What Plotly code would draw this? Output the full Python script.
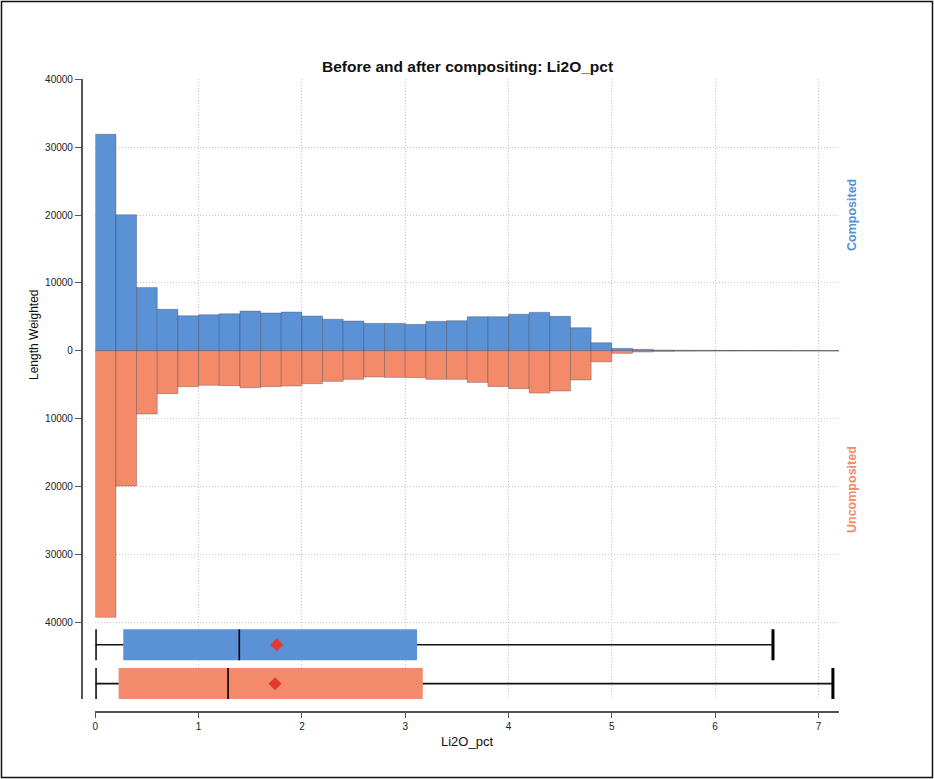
import plotly.graph_objects as go

# ---------------- data ----------------
bin_width = 0.2
bin_lo = [round(i * bin_width, 1) for i in range(36)]  # 0.0 .. 7.0 (bin left edges)

composited = [31900, 20050, 9330, 6100, 5160, 5300, 5450, 5850, 5560, 5700,
              5110, 4640, 4380, 4030, 4030, 3880, 4330, 4420, 5010, 5010,
              5380, 5650, 5070, 3390, 1180, 350, 200, 100, 60, 50,
              40, 20, 40, 0, 0, 0]
uncomposited = [39300, 19950, 9330, 6330, 5300, 5100, 5150, 5450, 5300, 5200,
                4860, 4520, 4220, 3880, 3930, 3980, 4220, 4220, 4670, 5300,
                5600, 6250, 5940, 4320, 1640, 390, 190, 100, 60, 50,
                40, 20, 30, 20, 20, 30]

series_names = ["Composited", "Uncomposited"]
box_min = [0.0, 0.0]
box_q1 = [0.271, 0.226]
box_median = [1.394, 1.285]
box_q3 = [3.114, 3.17]
box_max = [6.56, 7.14]
box_mean = [1.756, 1.74]

y_tick_vals = [-40000, -30000, -20000, -10000, 0, 10000, 20000, 30000, 40000]
y_tick_text = ["40000", "30000", "20000", "10000", "0", "10000", "20000", "30000", "40000"]
x_tick_vals = [0, 1, 2, 3, 4, 5, 6, 7]

# ---------------- style ----------------
BLUE = "#5B91D5"
ORANGE = "#F38B6B"
colors = [BLUE, ORANGE]
MEAN_RED = "#E23A2E"
FONT = "Arial, Liberation Sans, sans-serif"
W, H = 934, 779
box_row = [1, 0]  # row index on the box axis
half_h = 0.4
EDGE = "rgba(50,50,60,0.45)"
GRID_DASH = "1px,2px"

def px_x(p):
    return p / W

def px_y(p):
    return 1 - p / H

fig = go.Figure()

fig.add_trace(go.Bar(
    x=bin_lo, y=composited, width=bin_width, offset=0,
    marker=dict(color=BLUE, line=dict(color=EDGE, width=0.7)),
    name=series_names[0], showlegend=False))
fig.add_trace(go.Bar(
    x=bin_lo, y=[-v for v in uncomposited], width=bin_width, offset=0,
    marker=dict(color=ORANGE, line=dict(color=EDGE, width=0.7)),
    name=series_names[1], showlegend=False))

# box plots on an overlaid axis
for i in range(2):
    r = box_row[i]
    fig.add_trace(go.Bar(
        y=[r], x=[box_q3[i] - box_q1[i]], base=[box_q1[i]], orientation="h",
        width=2 * half_h, marker=dict(color=colors[i], line=dict(width=0)),
        yaxis="y2", showlegend=False))
    # whiskers
    fig.add_trace(go.Scatter(
        x=[box_min[i], box_q1[i], None, box_q3[i], box_max[i]],
        y=[r, r, None, r, r], mode="lines",
        line=dict(color="#111111", width=1.6), yaxis="y2", showlegend=False))
    # caps
    fig.add_trace(go.Scatter(
        x=[box_min[i], box_min[i], None, box_max[i], box_max[i]],
        y=[r - half_h, r + half_h, None, r - half_h, r + half_h], mode="lines",
        line=dict(color="#000000", width=3), yaxis="y2", showlegend=False))
    # median
    fig.add_trace(go.Scatter(
        x=[box_median[i], box_median[i]], y=[r - half_h, r + half_h], mode="lines",
        line=dict(color="#000000", width=1.6), yaxis="y2", showlegend=False))
    # mean
    fig.add_trace(go.Scatter(
        x=[box_mean[i]], y=[r], mode="markers",
        marker=dict(symbol="diamond", size=10, color=MEAN_RED),
        yaxis="y2", showlegend=False))

x_left, x_right = 95.3, 839.1
y_top, y_bot = 79.3, 699.0

fig.update_layout(
    width=W, height=H,
    template="none",
    paper_bgcolor="white", plot_bgcolor="white",
    margin=dict(l=0, r=0, t=0, b=0, autoexpand=False),
    barmode="overlay",
    font=dict(family=FONT, color="#222222"),
    xaxis=dict(
        domain=[px_x(x_left), px_x(x_right)], range=[0, 7.2],
        anchor="free", position=px_y(712.3),
        tickvals=x_tick_vals, ticks="outside", ticklen=5, tickwidth=1.2,
        tickcolor="#555555", showline=True, linecolor="#555555", linewidth=1.6,
        showgrid=True, gridcolor="#c8c8c8", griddash=GRID_DASH, gridwidth=1,
        zeroline=False, tickfont=dict(size=10, color="#222222", family=FONT)),
    yaxis=dict(
        domain=[px_y(y_bot), px_y(y_top)], range=[-51334, 40000],
        anchor="free", position=px_x(81.7),
        tickvals=y_tick_vals, ticktext=y_tick_text, ticks="outside", ticklen=6,
        tickwidth=1.2, tickcolor="#555555", showline=True, linecolor="#555555",
        linewidth=1.6, showgrid=True, gridcolor="#c8c8c8", griddash=GRID_DASH,
        gridwidth=1, zeroline=False,
        tickfont=dict(size=10, color="#222222", family=FONT)),
    yaxis2=dict(
        overlaying="y", range=[-0.395, 15.556], visible=False,
        showgrid=False, zeroline=False, fixedrange=True),
    annotations=[
        dict(text="<b>Before and after compositing: Li2O_pct</b>", x=px_x(467), y=px_y(67),
             xref="paper", yref="paper", showarrow=False, xanchor="center", yanchor="middle",
             font=dict(size=15.5, color="#111111", family=FONT)),
        dict(text="Length Weighted", x=px_x(34), y=px_y(335), xref="paper", yref="paper",
             showarrow=False, textangle=-90, xanchor="center", yanchor="middle",
             font=dict(size=12, color="#111111", family=FONT)),
        dict(text="Li2O_pct", x=px_x(466.7), y=px_y(741), xref="paper", yref="paper",
             showarrow=False, xanchor="center", yanchor="middle",
             font=dict(size=13, color="#111111", family=FONT)),
        dict(text="<b>Composited</b>", x=px_x(852), y=px_y(215), xref="paper", yref="paper",
             showarrow=False, textangle=-90, xanchor="center", yanchor="middle",
             font=dict(size=12.5, color=BLUE, family=FONT)),
        dict(text="<b>Uncomposited</b>", x=px_x(852), y=px_y(490), xref="paper", yref="paper",
             showarrow=False, textangle=-90, xanchor="center", yanchor="middle",
             font=dict(size=12.5, color=ORANGE, family=FONT)),
    ],
    shapes=[
        dict(type="rect", xref="paper", yref="paper",
             x0=px_x(1.5), x1=px_x(932.5), y0=px_y(777.5), y1=px_y(1.5),
             line=dict(color="#111111", width=1.5), fillcolor="rgba(0,0,0,0)"),
    ],
)

fig.write_html(
    "out.html",
    config={"displayModeBar": False},
    post_script="document.body.style.margin='0';document.body.style.overflow='hidden';",
)
